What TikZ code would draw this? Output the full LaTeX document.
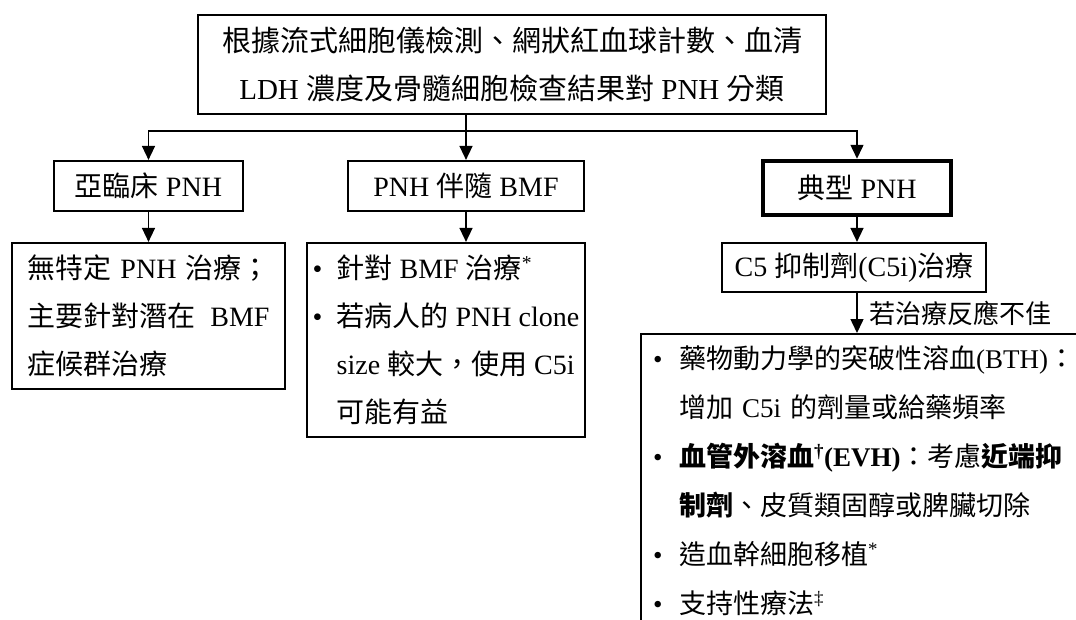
\documentclass[tikz,border=0pt]{standalone}
\usepackage{fontspec}
\setmainfont{Liberation Serif}
\newfontfamily\cjk{Noto Sans CJK TC}
\usetikzlibrary{arrows.meta}
\newcommand\zh[1]{{\cjk #1}}
\newlength\bwa
\setlength\bwa{26pt}
\newlength\bwb
\setlength\bwb{24pt}
\begin{document}
\begin{tikzpicture}[x=1pt,y=-1pt,
  box/.style={draw, line width=2.2pt, inner sep=0pt, align=center},
  arr/.style={line width=1.5pt, -{Triangle[length=14pt,width=13pt]}},
  fa/.style={font=\fontsize{28}{48}\selectfont},
]
\fill[white] (0,0) rectangle (1076,619);
\useasboundingbox (0,0) rectangle (1076,619);
\clip (0,0) rectangle (1076,619);

\node[box, line width=2.5pt, font=\fontsize{29}{48}\selectfont, minimum width=628pt, minimum height=99pt] (top) at (512,64.5)
  {\zh{根據流式細胞儀檢測、網狀紅血球計數、血清}\\LDH \zh{濃度及骨髓細胞檢查結果對} PNH \zh{分類}};

\node[box, fa, minimum width=189pt, minimum height=50pt] (sub) at (148.5,186) {\zh{亞臨床} PNH};
\node[box, fa, minimum width=236pt, minimum height=50pt] (bmf) at (466,186) {PNH \zh{伴隨} BMF};
\node[box, fa, line width=4.5pt, minimum width=188pt, minimum height=54pt] (typ) at (857,188) {\zh{典型} PNH};

\node[box, fa, minimum width=273pt, minimum height=146pt, align=left] (l3a) at (148.5,316)
  {\makebox[242pt][s]{\zh{無特定} PNH \zh{治療；}}\\
   \makebox[242pt][s]{\zh{主要針對潛在} BMF}\\
   \zh{症候群治療}};
\node[box, fa, minimum width=278pt, minimum height=194pt, align=left] (l3b) at (446,340)
  {\makebox[\bwb][l]{•}\zh{針對} BMF \zh{治療}\textsuperscript{*}\\
   \makebox[\bwb][l]{•}\zh{若病人的} PNH clone\\
   \hspace*{\bwb}size \zh{較大，使用} C5i\\
   \hspace*{\bwb}\zh{可能有益}};
\node[box, fa, minimum width=264pt, minimum height=49pt] (c5) at (854,267.5) {C5 \zh{抑制劑}(C5i)\zh{治療}};

\node[box, font=\fontsize{27}{49}\selectfont, anchor=north west, align=left, inner xsep=12pt, inner ysep=12pt,
      text depth=300pt, text width=496pt] (big) at (640,333)
  {\makebox[\bwa][l]{•}\zh{藥物動力學的突破性溶血}(BTH)\zh{：}\\
   \hspace*{\bwa}\zh{增加} C5i \zh{的劑量或給藥頻率}\\
   \makebox[\bwa][l]{•}\textbf{\zh{血管外溶血}\textsuperscript{†}(EVH)}\zh{：考慮}\textbf{\zh{近端抑}}\\
   \hspace*{\bwa}\textbf{\zh{制劑}}\zh{、皮質類固醇或脾臟切除}\\
   \makebox[\bwa][l]{•}\zh{造血幹細胞移植}\textsuperscript{*}\\
   \makebox[\bwa][l]{•}\zh{支持性療法}\textsuperscript{‡}};

\coordinate (hC) at (466,131);
\coordinate (hL) at (148.5,131);
\coordinate (hR) at (857,131);
\draw[arr] (bmf.north |- top.south) -- (bmf.north);
\draw[arr] (hC) -- (hL) -- (sub.north);
\draw[arr] (hC) -- (hR) -- (typ.north);
\draw[arr] (sub.south) -- (l3a.north);
\draw[arr] (bmf.south) -- (bmf.south |- l3b.north);
\draw[arr] (typ.south) -- (typ.south |- c5.north);
\draw[arr] (typ.south |- c5.south) -- node[anchor=west, xshift=8pt, font=\fontsize{26}{30}\selectfont] (lbl) {\zh{若治療反應不佳}} (typ.south |- big.north);
\end{tikzpicture}
\end{document}
